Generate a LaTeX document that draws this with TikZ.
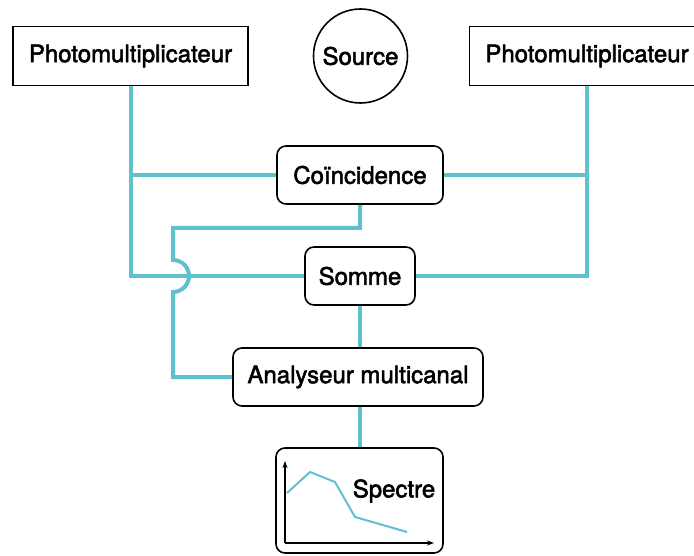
\documentclass[tikz,border=0pt]{standalone}
\usepackage{fontspec}
\setmainfont{TeX Gyre Heros}[FakeBold=2.2]
\usetikzlibrary{arrows.meta}
\definecolor{linkcyan}{RGB}{95,192,206}
\tikzstyle{pmbox} = [draw=black, line width=1.6pt, minimum width=235pt, minimum height=59pt, inner sep=0pt]
\tikzstyle{unit} = [draw=black, line width=1.6pt, rounded corners=9pt, minimum height=58pt, inner sep=0pt]
\tikzstyle{link} = [draw=linkcyan, line width=4pt]
\tikzstyle{axis} = [draw=black, line width=1.2pt, -{Stealth[length=7pt, width=5pt]}]

\begin{document}
\begin{tikzpicture}[x=1pt, y=-1pt, font=\fontsize{24}{28}\selectfont]
  \useasboundingbox (0,0) rectangle (694,556);

  % detecteurs et source
  \node[pmbox] (pmleft) at (130.5,56) {Photomultiplicateur};
  \node[pmbox] (pmright) at (587,56) {Photomultiplicateur};
  \node[draw=black, circle, line width=1.6pt, minimum size=94pt, inner sep=0pt] (source) at (360.5,56) {Source};

  % electronique
  \node[unit, minimum width=166pt] (coinc) at (360,175) {Coïncidence};
  \node[unit, minimum width=110pt] (somme) at (360,276) {Somme};
  \node[unit, minimum width=250pt] (analyseur) at (358,377) {Analyseur multicanal};
  \node[unit, minimum width=167pt, minimum height=105pt] (spectre) at (359.5,500.5) {};

  % liaisons
  \draw[link] (pmleft.south) |- (somme.west);
  \draw[link] (pmleft.south |- coinc.west) -- (coinc.west);
  \draw[link] (pmright.south) |- (somme.east);
  \draw[link] (pmright.south |- coinc.east) -- (coinc.east);
  \draw[link] (somme.south) -- (analyseur.north -| somme.south);
  \draw[link] (analyseur.south -| spectre.north) -- (spectre.north);
  \draw[link] (coinc.south) -- ++(0,23) -| (173,260)
    arc[start angle=-90, end angle=90, radius=16] |- (analyseur.west);

  % spectre
  \coordinate (origin) at (285,543);
  \draw[axis] (origin) -- (285,461);
  \draw[axis] (origin) -- (434,543);
  \draw[linkcyan, line width=2pt] (287,493) -- (310,472) -- (335,482) -- (355,517) -- (407,532);
  \node (spectrelbl) at (394,491) {Spectre};
\end{tikzpicture}
\end{document}
